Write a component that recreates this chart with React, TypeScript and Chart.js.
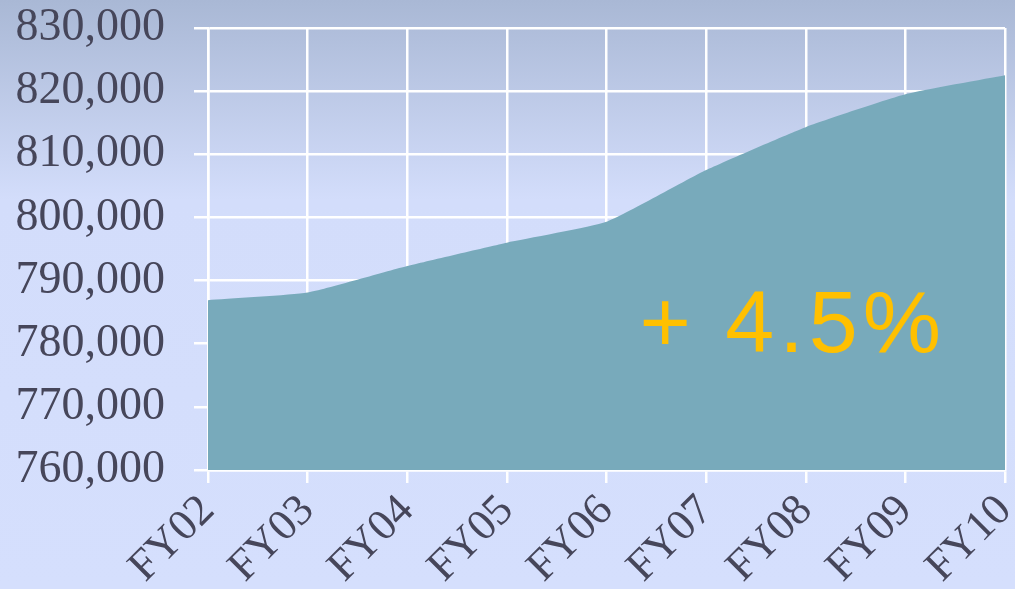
import React, { useEffect, useRef } from "react";
import { Chart, registerables } from "chart.js";

Chart.register(...registerables);

const categories = ["FY02", "FY03", "FY04", "FY05", "FY06", "FY07", "FY08", "FY09", "FY10"];
const values = [786900, 788100, 792300, 796000, 799300, 807500, 814300, 819500, 822500];
const growthLabel = "+ 4.5%";
const yMin = 760000;
const yMax = 830000;
const yStep = 10000;

const labelColor = "#46465a";
const serif = "'Liberation Serif', 'Times New Roman', serif";

const growthPlugin = {
  id: "growthText",
  afterDatasetsDraw(chart: any) {
    const { ctx } = chart;
    const x = chart.scales.x.getPixelForValue(4) + 33;
    const y = chart.chartArea.top + 324;
    ctx.save();
    ctx.fillStyle = "#ffc000";
    ctx.font = "88px 'Liberation Sans', Arial, sans-serif";
    ctx.textAlign = "left";
    ctx.textBaseline = "alphabetic";
    (ctx as any).letterSpacing = "5px";
    ctx.fillText(growthLabel, x, y);
    ctx.restore();
  },
};

export default function App() {
  const ref = useRef<HTMLCanvasElement>(null);
  useEffect(() => {
    if (!ref.current) return;
    const chart = new Chart(ref.current, {
      type: "line",
      data: {
        labels: categories,
        datasets: [
          {
            data: values,
            fill: "start",
            backgroundColor: "#78aabb",
            borderWidth: 0,
            borderColor: "#78aabb",
            pointRadius: 0,
            tension: 0.15,
          },
        ],
      },
      options: {
        animation: false,
        responsive: false,
        plugins: { legend: { display: false }, tooltip: { enabled: false } },
        layout: { padding: { top: 28, right: 10, left: 0, bottom: 0 } },
        scales: {
          x: {
            offset: false,
            grid: { color: "#ffffff", lineWidth: 2.5, tickLength: 13, drawTicks: true },
            border: { color: "#ffffff", width: 2.5 },
            ticks: {
              color: labelColor,
              font: { family: serif, size: 44 },
              maxRotation: 45,
              minRotation: 45,
              padding: 2,
              autoSkip: false,
            },
            afterFit(scale: any) {
              scale.height = 119;
              scale.paddingLeft = 0;
              scale.paddingRight = 0;
            },
          },
          y: {
            min: yMin,
            max: yMax,
            grid: { color: "#ffffff", lineWidth: 2.5, tickLength: 14 },
            border: { color: "#ffffff", width: 2.5 },
            ticks: {
              stepSize: yStep,
              color: labelColor,
              font: { family: serif, size: 46 },
              padding: 29,
              callback: (v: any) => Number(v).toLocaleString("en-US"),
            },
            afterFit(scale: any) {
              scale.width = 208;
              scale.paddingTop = 0;
              scale.paddingBottom = 0;
            },
          },
        },
      },
      plugins: [growthPlugin],
    });
    return () => chart.destroy();
  }, []);
  return (
    <div
      style={{
        position: "fixed",
        left: 0,
        top: 0,
        width: 1015,
        height: 589,
        background: "linear-gradient(180deg, #a9b8d5 0px, #d3ddfb 200px, #d5dffd 589px)",
      }}
    >
      <canvas ref={ref} width={1015} height={589} style={{ display: "block" }} />
    </div>
  );
}
